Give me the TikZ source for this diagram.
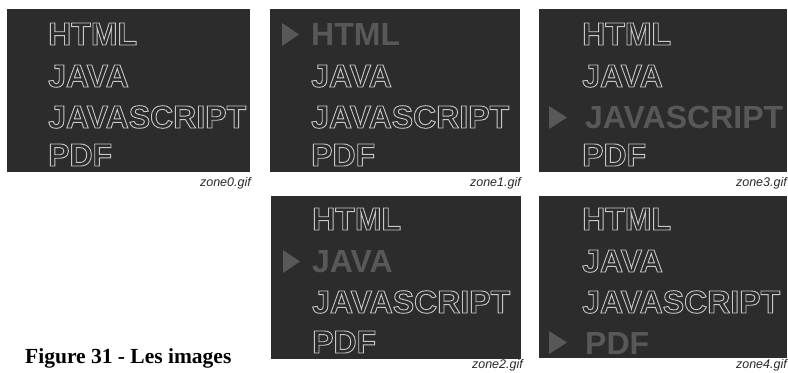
\documentclass[tikz,border=0pt]{standalone}
\usepackage{fontspec}
\setmainfont{Liberation Serif}
\newfontfamily\zonefont{Liberation Sans}
\usepackage{xcolor}
\definecolor{zbg}{RGB}{44,44,44}
\definecolor{zline}{RGB}{200,200,200}
\definecolor{zhl}{RGB}{88,88,88}
\definecolor{zcap}{RGB}{40,40,40}
\usetikzlibrary{positioning}
%% outlined glyphs (stroke only)
\newcommand\outl[1]{\special{pdf:code 1 Tr 0.9 w}#1\special{pdf:code 0 Tr}}

\begin{document}
\begin{tikzpicture}[x=1bp, y=-1bp,
  panel_z/.style={fill=zbg, draw=none},
  word_z/.style={anchor=base west, inner sep=0pt, text=zline, font=\zonefont\bfseries\fontsize{32bp}{32bp}\selectfont},
  word_hl/.style={anchor=base west, inner sep=0pt, text=zhl, font=\zonefont\bfseries\fontsize{32bp}{32bp}\selectfont},
  mark_hl/.style={fill=zhl, draw=none},
  cap_z/.style={anchor=base east, inner sep=0pt, text=zcap, font=\zonefont\itshape\fontsize{12.5bp}{12.5bp}\selectfont}
]
  \useasboundingbox (0,0) rectangle (788,372);

  %% zone0 (no selection)
  \fill[panel_z] (7,9) rectangle (250,172);
  \node[word_z] (z0a) at (48,45)  {\outl{HTML}};
  \node[word_z] (z0b) at (48,87)  {\outl{JAVA}};
  \node[word_z] (z0c) at (48,128) {\outl{JAVASCRIPT}};
  \node[word_z] (z0d) at (48,166) {\outl{PDF}};
  \node[cap_z] (cap0) at (251,186) {zone0.gif};

  %% zone1 (HTML)
  \fill[panel_z] (270,9) rectangle (520,172);
  \fill[mark_hl] (282,23) -- (299,34.5) -- (282,46) -- cycle;
  \node[word_hl] (z1a) at (311,45)  {HTML};
  \node[word_z]  (z1b) at (311,87)  {\outl{JAVA}};
  \node[word_z]  (z1c) at (311,128) {\outl{JAVASCRIPT}};
  \node[word_z]  (z1d) at (311,166) {\outl{PDF}};
  \node[cap_z] (cap1) at (521,186) {zone1.gif};

  %% zone3 (JAVASCRIPT)
  \fill[panel_z] (539,9) rectangle (787,172);
  \fill[mark_hl] (549,106) -- (567,117.5) -- (549,129) -- cycle;
  \node[word_z]  (z3a) at (582,45)  {\outl{HTML}};
  \node[word_z]  (z3b) at (582,87)  {\outl{JAVA}};
  \node[word_hl] (z3c) at (585,128) {JAVASCRIPT};
  \node[word_z]  (z3d) at (582,166) {\outl{PDF}};
  \node[cap_z] (cap3) at (787,186) {zone3.gif};

  %% zone2 (JAVA)
  \fill[panel_z] (271,196) rectangle (521,359);
  \fill[mark_hl] (283,250) -- (300,261.5) -- (283,273) -- cycle;
  \node[word_z]  (z2a) at (312,230) {\outl{HTML}};
  \node[word_hl] (z2b) at (312,272) {JAVA};
  \node[word_z]  (z2c) at (312,313) {\outl{JAVASCRIPT}};
  \node[word_z]  (z2d) at (312,353) {\outl{PDF}};
  \node[cap_z] (cap2) at (523,368) {zone2.gif};

  %% zone4 (PDF)
  \fill[panel_z] (539,196) rectangle (787,358);
  \fill[mark_hl] (549,331) -- (567,342.5) -- (549,354) -- cycle;
  \node[word_z]  (z4a) at (582,230) {\outl{HTML}};
  \node[word_z]  (z4b) at (582,272) {\outl{JAVA}};
  \node[word_z]  (z4c) at (582,313) {\outl{JAVASCRIPT}};
  \node[word_hl] (z4d) at (585,354) {PDF};
  \node[cap_z] (cap4) at (787,368) {zone4.gif};

  %% figure caption
  \node[anchor=base west, inner sep=0pt, font=\bfseries\fontsize{21.5bp}{21.5bp}\selectfont] (fig) at (25,363) {Figure 31 - Les images};
\end{tikzpicture}
\end{document}
